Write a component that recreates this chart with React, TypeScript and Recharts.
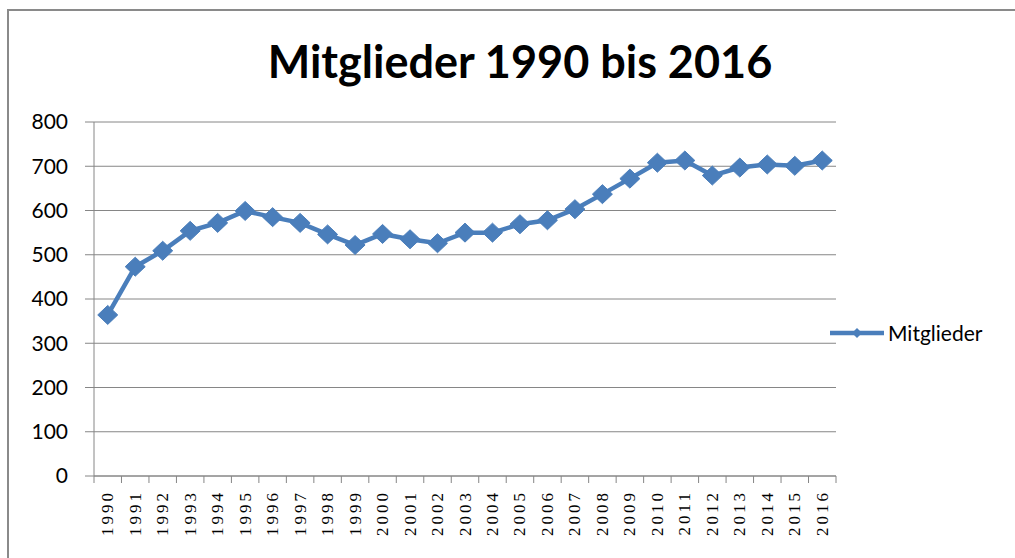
import React from "react";
import {
  LineChart,
  Line,
  XAxis,
  YAxis,
  CartesianGrid,
  Legend,
} from "recharts";

const years = [
  "1990", "1991", "1992", "1993", "1994", "1995", "1996", "1997", "1998",
  "1999", "2000", "2001", "2002", "2003", "2004", "2005", "2006", "2007",
  "2008", "2009", "2010", "2011", "2012", "2013", "2014", "2015", "2016",
];

const mitglieder = [
  364, 473, 509, 554, 572, 599, 585, 572, 546, 522, 547, 535, 526, 550, 550,
  569, 578, 603, 637, 672, 708, 713, 679, 697, 704, 701, 713,
];

const yTicks = [0, 100, 200, 300, 400, 500, 600, 700, 800];

const data = years.map((year, i) => ({ year, Mitglieder: mitglieder[i] }));

const W = 1015;
const H = 558;
const PLOT_LEFT = 94;
const PLOT_RIGHT = 836;
const HALF_BAND = (PLOT_RIGHT - PLOT_LEFT) / years.length / 2;
const BLUE = "#4A7EBB";
const GRAY = "#868686";

function YearTick(props: any) {
  const { x, y, payload, index } = props;
  const last = index === years.length - 1;
  return (
    <g>
      <line x1={x - HALF_BAND} y1={y} x2={x - HALF_BAND} y2={y + 7} stroke={GRAY} />
      {last && (
        <line x1={x + HALF_BAND} y1={y} x2={x + HALF_BAND} y2={y + 7} stroke={GRAY} />
      )}
      <text
        x={0}
        y={0}
        transform={`translate(${x},${y + 14}) rotate(-90)`}
        textAnchor="end"
        dominantBaseline="central"
        fontFamily="'Liberation Serif', serif"
        fontSize={17}
        letterSpacing={3}
        fill="#000"
      >
        {payload.value}
      </text>
    </g>
  );
}

function Diamond(props: any) {
  const { cx, cy, index } = props;
  if (cx == null || cy == null) return <g key={index} />;
  const rx = 10;
  const ry = 9.5;
  return (
    <polygon
      key={index}
      points={`${cx},${cy - ry} ${cx + rx},${cy} ${cx},${cy + ry} ${cx - rx},${cy}`}
      fill={BLUE}
      stroke={BLUE}
      strokeWidth={1}
    />
  );
}

function LegendBox(props: any) {
  const { payload } = props;
  return (
    <div style={{ display: "flex", alignItems: "center" }}>
      {(payload || []).map((p: any) => (
        <div key={p.value} style={{ display: "flex", alignItems: "center" }}>
          <svg width={58} height={14}>
            <line x1={2} y1={7} x2={56} y2={7} stroke={BLUE} strokeWidth={4.5} />
            <polygon points="29,2 34,7 29,12 24,7" fill={BLUE} />
          </svg>
          <span
            style={{
              fontFamily: "Lato, sans-serif",
              fontSize: 21,
              color: "#000",
              marginLeft: 2,
            }}
          >
            {p.value}
          </span>
        </div>
      ))}
    </div>
  );
}

export default function App() {
  return (
    <div
      style={{
        position: "absolute",
        left: 0,
        top: 0,
        width: W,
        height: H,
        overflow: "hidden",
        background: "#fff",
      }}
    >
      <div
        style={{
          position: "absolute",
          left: 7,
          top: 9,
          width: 1030,
          height: 600,
          border: "2px solid #8a8a8a",
        }}
      />
      <div
        style={{
          position: "absolute",
          left: 520,
          top: 39,
          transform: "translateX(-50%)",
          whiteSpace: "nowrap",
          fontFamily: "Lato, sans-serif",
          fontWeight: 700,
          fontSize: 45,
          lineHeight: "45px",
          color: "#000",
        }}
      >
        Mitglieder 1990 bis 2016
      </div>
      <div style={{ position: "absolute", left: 0, top: 0 }}>
        <LineChart
          width={W}
          height={H}
          data={data}
          margin={{ top: 122, right: W - PLOT_RIGHT, bottom: 22, left: PLOT_LEFT - 60 }}
        >
          <CartesianGrid horizontal vertical={false} stroke={GRAY} />
          <XAxis
            dataKey="year"
            interval={0}
            height={60}
            padding={{ left: HALF_BAND, right: HALF_BAND }}
            tickLine={false}
            tickSize={0}
            tickMargin={0}
            axisLine={{ stroke: GRAY }}
            tick={<YearTick />}
          />
          <YAxis
            width={60}
            domain={[0, 800]}
            ticks={yTicks}
            interval={0}
            tickSize={9}
            tickMargin={17}
            axisLine={{ stroke: GRAY }}
            tickLine={{ stroke: GRAY }}
            tick={{ fontFamily: "Lato, sans-serif", fontSize: 21, fill: "#000" }}
          />
          <Legend
            layout="horizontal"
            align="center"
            verticalAlign="middle"
            content={<LegendBox />}
            wrapperStyle={{ position: "absolute", left: 828, top: 320, width: 180 }}
          />
          <Line
            type="linear"
            dataKey="Mitglieder"
            stroke={BLUE}
            strokeWidth={4.5}
            dot={Diamond}
            activeDot={false}
            isAnimationActive={false}
          />
        </LineChart>
      </div>
    </div>
  );
}
